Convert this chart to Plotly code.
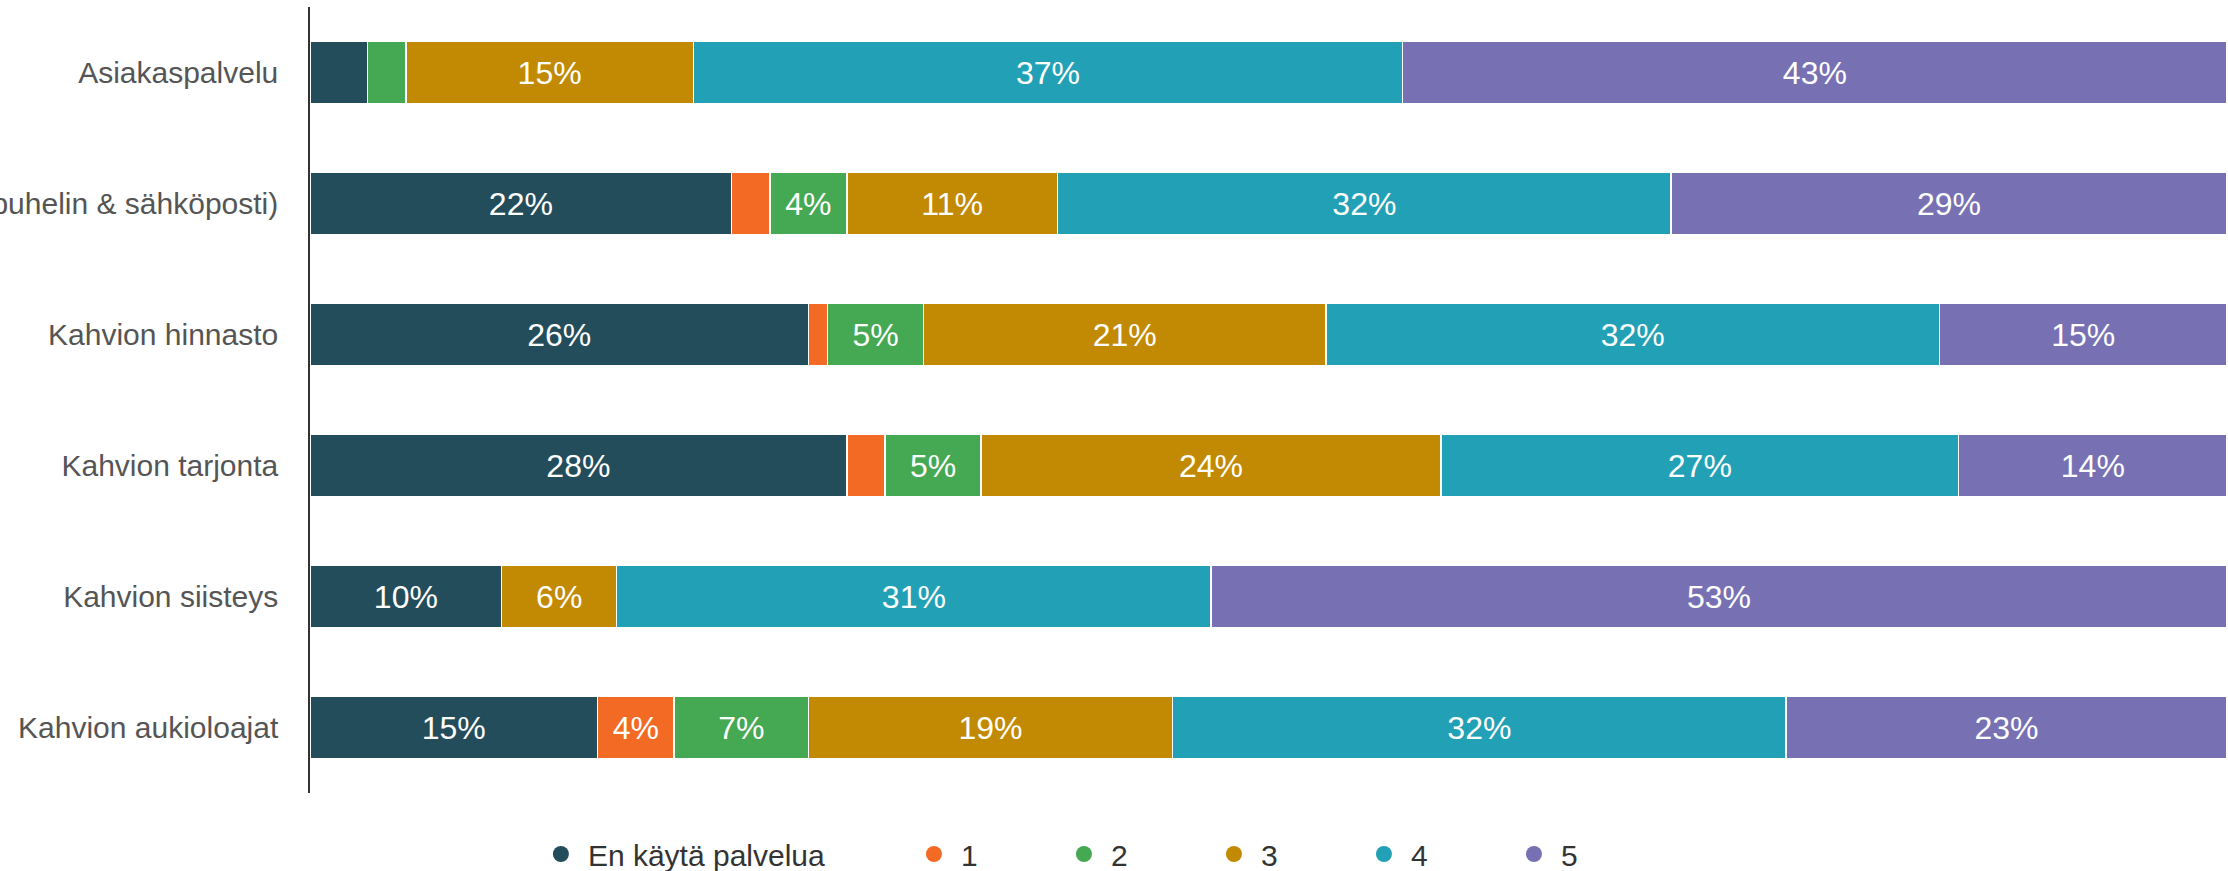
import plotly.graph_objects as go

categories = [
    "Asiakaspalvelu",
    "Asiakaspalvelu (puhelin & sähköposti)",
    "Kahvion hinnasto",
    "Kahvion tarjonta",
    "Kahvion siisteys",
    "Kahvion aukioloajat",
]
series_names = ["En käytä palvelua", "1", "2", "3", "4", "5"]
en_kayta = [3, 22, 26, 28, 10, 15]
s1 = [0, 2, 1, 2, 0, 4]
s2 = [2, 4, 5, 5, 0, 7]
s3 = [15, 11, 21, 24, 6, 19]
s4 = [37, 32, 32, 27, 31, 32]
s5 = [43, 29, 15, 14, 53, 23]
series_values = [en_kayta, s1, s2, s3, s4, s5]
colors = ["#234D5B", "#F26A24", "#45A853", "#C18A02", "#22A1B6", "#7771B4"]

FONT = "Liberation Sans, Arial, sans-serif"

fig = go.Figure()
for name, vals, col in zip(series_names, series_values, colors):
    fig.add_trace(go.Bar(
        y=categories, x=vals, orientation="h", name=name,
        marker=dict(color=col, line=dict(color="white", width=1.5)),
        text=[f"{v}%" if v >= 4 else "" for v in vals],
        textposition="inside", insidetextanchor="middle",
        textfont=dict(color="white", size=32, family=FONT),
        showlegend=False, hoverinfo="skip",
    ))

# legend entries (circle markers)
for i, (name, col) in enumerate(zip(series_names, colors)):
    fig.add_trace(go.Scatter(
        x=[None], y=[None], mode="markers", name=name,
        marker=dict(color=col, size=16, symbol="circle"),
        showlegend=True, legend="legend" if i == 0 else "legend2",
    ))

fig.update_layout(
    width=2228, height=871,
    barmode="stack", bargap=0.52,
    margin=dict(l=310, r=1, t=7, b=78, autoexpand=False),
    plot_bgcolor="white", paper_bgcolor="white",
    font=dict(family=FONT),
    xaxis=dict(range=[0, 100], visible=False, fixedrange=True),
    yaxis=dict(
        autorange="reversed", automargin=False, showline=True,
        linecolor="#333333", linewidth=1.5, ticks="", showgrid=False,
        tickfont=dict(size=30, color="#555555", family=FONT),
        ticklabelstandoff=24, fixedrange=True,
    ),
    legend=dict(
        orientation="h", x=0.1168, xanchor="left",
        yref="container", y=0.0195, yanchor="middle",
        font=dict(size=30, color="#333333", family=FONT), itemwidth=44,
        bgcolor="rgba(0,0,0,0)",
    ),
    legend2=dict(
        orientation="h", x=0.3114, xanchor="left",
        yref="container", y=0.0195, yanchor="middle",
        font=dict(size=30, color="#333333", family=FONT), itemwidth=44,
        entrywidth=91, entrywidthmode="pixels", bgcolor="rgba(0,0,0,0)",
    ),
)

fig.write_html("out.html", config={"displayModeBar": False},
               post_script="document.body.style.margin='0';document.body.style.overflow='hidden';")
